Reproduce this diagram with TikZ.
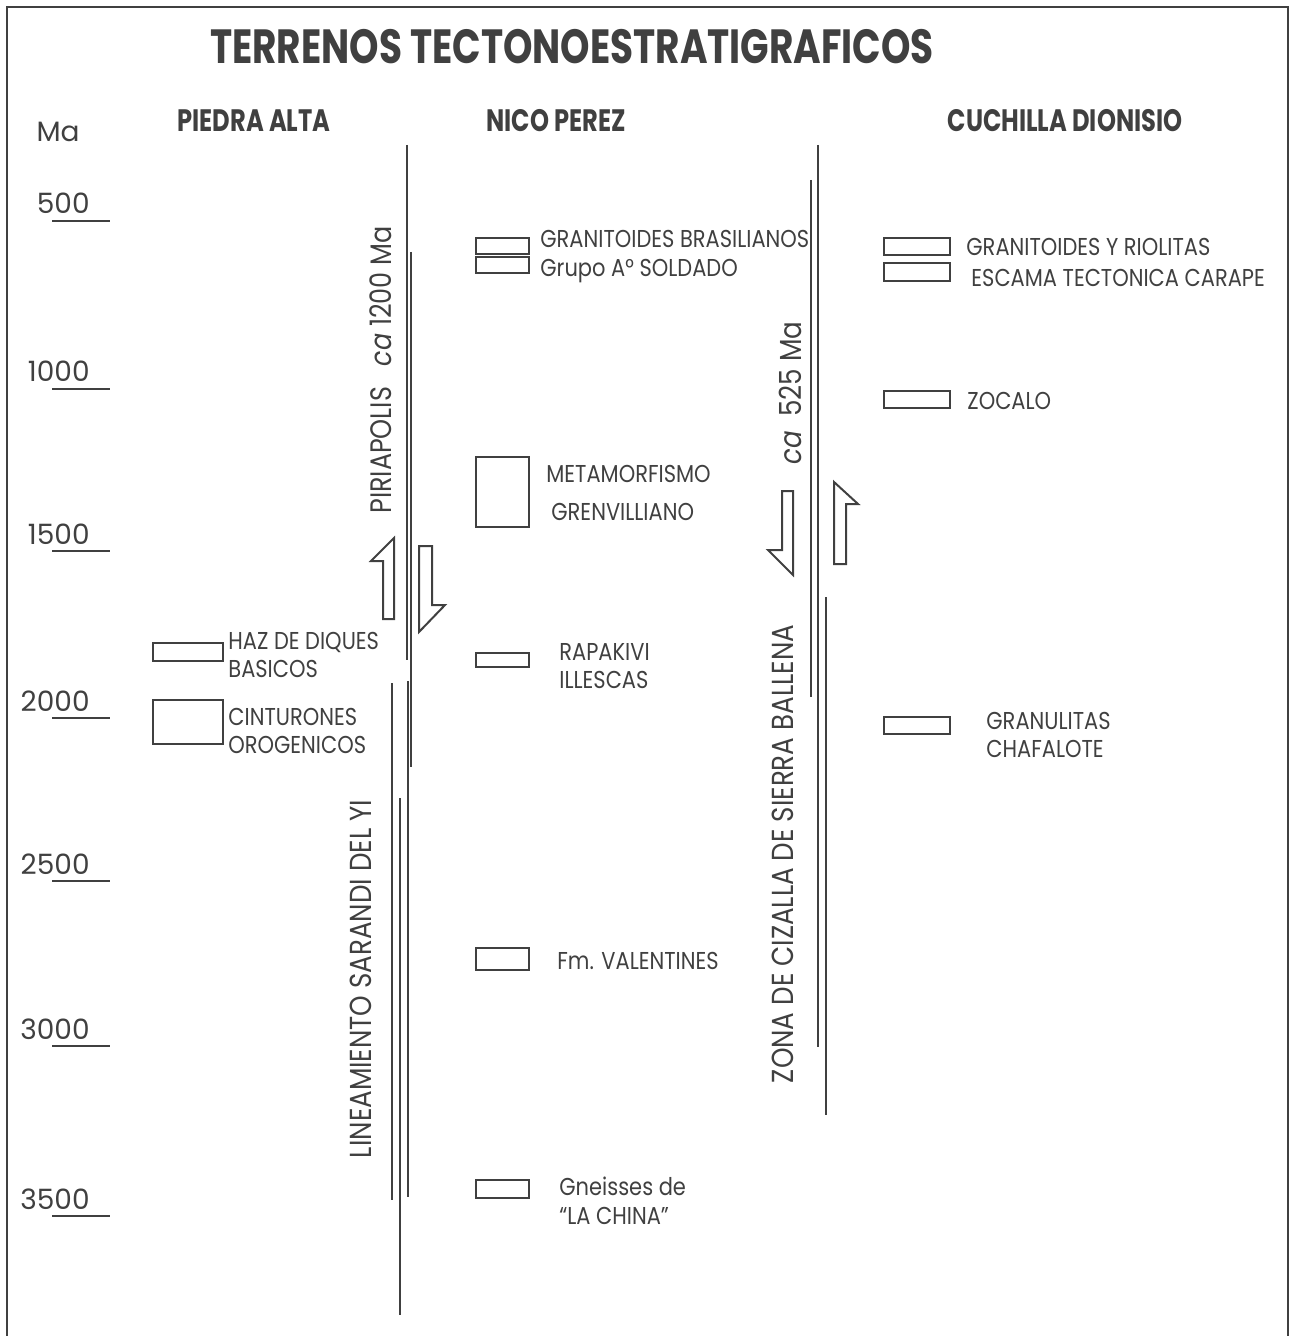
\documentclass[tikz,border=0pt]{standalone}
\usepackage{fontspec}
\setmainfont[FakeStretch=0.86]{Poppins}
\newfontfamily\hdrfont[FakeStretch=0.78]{Poppins}
\newfontfamily\numfont{Poppins}
\usetikzlibrary{positioning}
\definecolor{tinta}{gray}{0.25}
\tikzset{
  caja/.style={draw=tinta,line width=1.4pt,inner sep=0pt},
  rot/.style={anchor=base west,inner sep=0pt,text=tinta,font=\fontsize{12.2}{14}\selectfont},
  falla/.style={tinta,line width=1.4pt},
  flecha/.style={tinta,line width=1pt},
  cab/.style={text=tinta,inner sep=0pt,font=\hdrfont\bfseries\fontsize{15.5}{17}\selectfont},
  zona/.style={rotate=90,text=tinta,inner sep=0pt,font=\fontsize{15.2}{17}\selectfont},
  edad/.style={anchor=base east,inner sep=0pt,text=tinta,font=\numfont\fontsize{14}{16}\selectfont},
}
\begin{document}
\begin{tikzpicture}[x=0.5pt,y=-0.5pt]
  \useasboundingbox (0,0) rectangle (1290,1336);
  \draw[tinta,line width=0.8pt] (7,1336) -- (7,7) -- (1288,7) -- (1288,1336);
  \node[cab,font=\hdrfont\bfseries\fontsize{24}{26}\selectfont] (titulo) at (572,47) {TERRENOS TECTONOESTRATIGRAFICOS};
  \node[cab] (pa) at (254,121) {PIEDRA ALTA};
  \node[cab] (np) at (556,121) {NICO PEREZ};
  \node[cab] (cd) at (1065,121) {CUCHILLA DIONISIO};
  % escala de edades
  \node[edad] (ma) at (80,142) {Ma};
  \foreach \m/\yy in {500/221,1000/389,1500/551,2000/718,2500/881,3000/1046,3500/1216}{
    \node[edad] (e\m) at (90,\yy-7) {\m};
    \draw[tinta,line width=0.9pt] (52,\yy) -- (110,\yy);
  }
  % Piedra Alta
  \node[caja,minimum width=35pt,minimum height=9pt] (haz) at (188,652) {};
  \node[caja,minimum width=35pt,minimum height=22pt] (cint) at (188,722) {};
  \node[rot] (hazA) at (228,649) {HAZ DE DIQUES};
  \node[rot] (hazB) at (228,677) {BASICOS};
  \node[rot] (cintA) at (228,725) {CINTURONES};
  \node[rot] (cintB) at (228,753) {OROGENICOS};
  % Nico Perez
  \node[caja,minimum width=26.5pt,minimum height=8pt] (gbra) at (502.5,246) {};
  \node[caja,minimum width=26.5pt,minimum height=8pt] (sold) at (502.5,265) {};
  \node[caja,minimum width=26.5pt,minimum height=35pt] (meta) at (502.5,492) {};
  \node[caja,minimum width=26.5pt,minimum height=7pt] (rapa) at (502.5,660) {};
  \node[caja,minimum width=26.5pt,minimum height=11pt] (vale) at (502.5,959) {};
  \node[caja,minimum width=26.5pt,minimum height=9pt] (gnei) at (502.5,1189) {};
  \node[rot] (gbraT) at (540,248) {GRANITOIDES BRASILIANOS};
  \node[rot] (soldT) at (540,277) {Grupo A\textdegree{} SOLDADO};
  \node[rot] (metaA) at (546,482) {METAMORFISMO};
  \node[rot] (metaB) at (551,520) {GRENVILLIANO};
  \node[rot] (rapaA) at (559,660) {RAPAKIVI};
  \node[rot] (rapaB) at (559,688) {ILLESCAS};
  \node[rot] (valeT) at (557,969) {Fm. VALENTINES};
  \node[rot] (gneiA) at (559,1195) {Gneisses de};
  \node[rot] (gneiB) at (559,1224) {``LA CHINA''};
  % Cuchilla Dionisio
  \node[caja,minimum width=33pt,minimum height=8.5pt] (griol) at (917,246.5) {};
  \node[caja,minimum width=33pt,minimum height=9pt] (esca) at (917,272) {};
  \node[caja,minimum width=33pt,minimum height=8.5pt] (zoca) at (917,399.5) {};
  \node[caja,minimum width=33pt,minimum height=8.5pt] (gchaf) at (917,725.5) {};
  \node[rot] (griolT) at (966,256) {GRANITOIDES Y RIOLITAS};
  \node[rot] (escaT) at (971,287) {ESCAMA TECTONICA CARAPE};
  \node[rot] (zocaT) at (967,409) {ZOCALO};
  \node[rot] (gchafA) at (986,729) {GRANULITAS};
  \node[rot] (gchafB) at (986,757) {CHAFALOTE};
  % lineamiento Sarandi del Yi
  \draw[falla] (407,145) -- (407,660);
  \draw[falla] (411,252) -- (411,767);
  \draw[falla] (392,683) -- (392,1200);
  \draw[falla] (408,681) -- (408,1197);
  \draw[falla] (400,798) -- (400,1315);
  \draw[flecha] (394,619) -- (394,538) -- (371,561) -- (383,561) -- (383,619) -- cycle;
  \draw[flecha] (419,546) -- (432,546) -- (432,605) -- (445,605) -- (419,632) -- cycle;
  \node[zona,font=\fontsize{14.8}{16}\selectfont] (piria) at (381,370) {PIRIAPOLIS\ \ \ \textit{ca} 1200 Ma};
  \node[zona] (sarandi) at (361,979) {LINEAMIENTO SARANDI DEL YI};
  % zona de cizalla Sierra Ballena
  \draw[falla] (818,145) -- (818,1047);
  \draw[falla] (811,180) -- (811,697);
  \draw[falla] (826,597) -- (826,1115);
  \draw[flecha] (782,491) -- (793,491) -- (793,575) -- (768,550) -- (782,550) -- cycle;
  \draw[flecha] (834,482) -- (858,504) -- (846,504) -- (846,564) -- (834,564) -- cycle;
  \node[zona] (ca525) at (790,393) {\textit{ca}\ \ 525 Ma};
  \node[zona] (ballena) at (783,854) {ZONA DE CIZALLA DE SIERRA BALLENA};
\end{tikzpicture}
\end{document}
